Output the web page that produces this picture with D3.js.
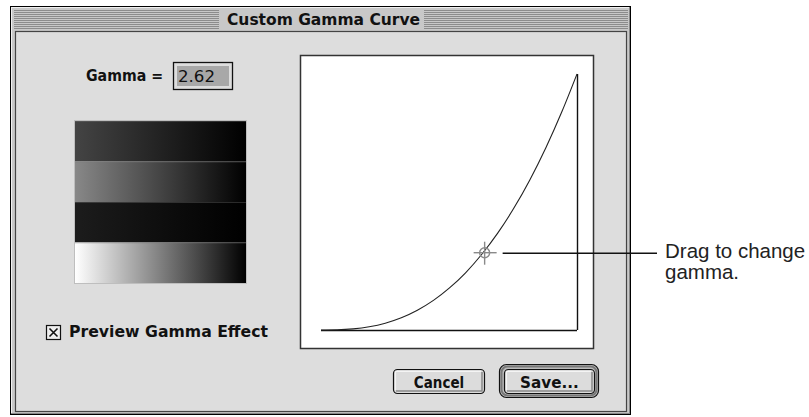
<!DOCTYPE html>
<html><head><meta charset="utf-8">
<script src="https://cdn.jsdelivr.net/npm/d3@7"></script>
<style>html,body{margin:0;padding:0;background:#fff;}svg{display:block;}</style>
</head><body>
<svg id="c" width="809" height="417"></svg>
<script>
// ---- data ----
const title = "Custom Gamma Curve";
const gammaValue = "2.62";
const inputLevels  = [0, 16, 32, 48, 64, 80, 96, 112, 128, 144, 160, 176, 192, 208, 224, 240, 255];
const outputLevels = [0, 0.2, 1.1, 3.2, 6.8, 12.2, 19.7, 29.5, 41.9, 57.0, 75.2, 96.5, 121.2, 149.5, 181.6, 217.6, 255];
const handlePoint = [163, 77];
const rampStartGrays = [68, 136, 28, 255];
const checkboxLabel = "Preview Gamma Effect";
const buttonLabels = ["Cancel", "Save..."];
const noteLines = ["Drag to change", "gamma."];

const svg = d3.select("#c");
const chicago = "'DejaVu Sans', Verdana, sans-serif";

// ---- window frame ----
svg.append("rect").attr("x",10.5).attr("y",6.5).attr("width",620).attr("height",408)
  .attr("fill","#c8c8c8").attr("stroke","#000").attr("stroke-width",1);
svg.append("line").attr("x1",11).attr("x2",630).attr("y1",7.5).attr("y2",7.5).attr("stroke","#f0f0f0");
svg.append("line").attr("x1",11.5).attr("x2",11.5).attr("y1",7).attr("y2",414).attr("stroke","#f0f0f0");
svg.append("line").attr("x1",629.5).attr("x2",629.5).attr("y1",7).attr("y2",414).attr("stroke","#888");
svg.append("line").attr("x1",11).attr("x2",630).attr("y1",413.5).attr("y2",413.5).attr("stroke","#888");
// title bar stripes
const stripeYs = d3.range(10, 29, 2);
const titleX0 = 227, titleX1 = 420;
[[14, titleX0 - 8], [titleX1 + 4, 628]].forEach(([a,b]) => {
  svg.append("g").selectAll("line").data(stripeYs).join("line")
    .attr("x1",a).attr("x2",b).attr("y1",d=>d+0.5).attr("y2",d=>d+0.5)
    .attr("stroke","#8c8c8c").attr("stroke-width",1);
});
svg.append("text").attr("x",(titleX0+titleX1)/2).attr("y",24.5).attr("text-anchor","middle")
  .attr("font-family",chicago).attr("font-weight","bold").attr("font-size",16)
  .attr("textLength",titleX1-titleX0).attr("lengthAdjust","spacingAndGlyphs")
  .attr("fill","#111").text(title);
// content area
svg.append("rect").attr("x",15.5).attr("y",31.5).attr("width",611).attr("height",380)
  .attr("fill","#dddddd").attr("stroke","#444").attr("stroke-width",1.2);

// ---- Gamma label + field ----
svg.append("text").attr("x",86).attr("y",81).attr("font-family",chicago).attr("font-weight","bold")
  .attr("font-size",16).attr("textLength",77).attr("lengthAdjust","spacingAndGlyphs").attr("fill","#111").text("Gamma =");
svg.append("rect").attr("x",173.5).attr("y",62.5).attr("width",59).attr("height",27)
  .attr("fill","#dddddd").attr("stroke","#111").attr("stroke-width",1.3);
svg.append("rect").attr("x",177).attr("y",66).attr("width",52).attr("height",20).attr("fill","#a8a8a8");
svg.append("text").attr("x",178).attr("y",82).attr("font-family",chicago)
  .attr("font-size",16).attr("textLength",37).attr("lengthAdjust","spacingAndGlyphs").attr("fill","#111").text(gammaValue);

// ---- gradient ramps ----
const rampX = 75, rampW = 171, rampY0 = 121, rampY1 = 283;
const bandY = d3.scaleBand().domain(d3.range(rampStartGrays.length)).range([rampY0, rampY1]).padding(0);
const defs = svg.append("defs");
rampStartGrays.forEach((g,i) => {
  const lg = defs.append("linearGradient").attr("id","ramp"+i).attr("x1","0").attr("x2","1").attr("y1","0").attr("y2","0");
  lg.append("stop").attr("offset","0").attr("stop-color",d3.rgb(g,g,g));
  lg.append("stop").attr("offset","1").attr("stop-color","#000");
});
svg.append("g").selectAll("rect").data(rampStartGrays).join("rect")
  .attr("x",rampX).attr("y",(d,i)=>bandY(i)).attr("width",rampW).attr("height",bandY.bandwidth())
  .attr("fill",(d,i)=>`url(#ramp${i})`);
svg.append("g").selectAll("line").data(rampStartGrays).join("line")
  .attr("x1",rampX).attr("x2",rampX+rampW).attr("y1",(d,i)=>bandY(i)+0.5).attr("y2",(d,i)=>bandY(i)+0.5)
  .attr("stroke","#777").attr("stroke-opacity",0.35);
svg.append("rect").attr("x",rampX-0.5).attr("y",rampY0-0.5).attr("width",rampW+1).attr("height",rampY1-rampY0+1)
  .attr("fill","none").attr("stroke","#aaa").attr("stroke-width",1).attr("stroke-opacity",0.6);

// ---- checkbox ----
svg.append("rect").attr("x",46.5).attr("y",325.5).attr("width",14).attr("height",14)
  .attr("fill","#eee").attr("stroke","#111").attr("stroke-width",1.2);
svg.append("path").attr("d","M49.5,328.5 L57.5,336.5 M57.5,328.5 L49.5,336.5")
  .attr("stroke","#111").attr("stroke-width",1.6);
svg.append("text").attr("x",69).attr("y",337).attr("font-family",chicago).attr("font-weight","bold")
  .attr("font-size",15).attr("textLength",199).attr("lengthAdjust","spacingAndGlyphs").attr("fill","#111").text(checkboxLabel);

// ---- curve panel ----
svg.append("rect").attr("x",300.5).attr("y",55.5).attr("width",293).attr("height",293)
  .attr("fill","#fff").attr("stroke","#333").attr("stroke-width",1.5);
const x = d3.scaleLinear().domain([0,255]).range([321,577]);
const y = d3.scaleLinear().domain([0,255]).range([330,74]);
svg.append("line").attr("x1",x(0)).attr("x2",x(255)).attr("y1",y(0)+0.5).attr("y2",y(0)+0.5)
  .attr("stroke","#111").attr("stroke-width",1.4);
svg.append("line").attr("x1",x(255)+0.5).attr("x2",x(255)+0.5).attr("y1",y(0)).attr("y2",y(255))
  .attr("stroke","#111").attr("stroke-width",1.4);
const pts = inputLevels.map((v,i)=>[v, outputLevels[i]]);
svg.append("path").datum(pts)
  .attr("d", d3.line().x(d=>x(d[0])).y(d=>y(d[1])).curve(d3.curveMonotoneX))
  .attr("fill","none").attr("stroke","#222").attr("stroke-width",1.1);

// handle (crosshair)
const hx = x(handlePoint[0]), hy = y(handlePoint[1]);
const hg = svg.append("g").attr("stroke","#8a8a8a").attr("fill","none").attr("stroke-width",1.4);
hg.append("circle").attr("cx",hx).attr("cy",hy).attr("r",5);
hg.append("line").attr("x1",hx-11).attr("x2",hx+12).attr("y1",hy).attr("y2",hy);
hg.append("line").attr("x1",hx).attr("x2",hx).attr("y1",hy-11).attr("y2",hy+12);

// ---- buttons ----
function button(x0,y0,w,h,label,isDefault){
  const g = svg.append("g");
  if(isDefault){
    g.append("rect").attr("x",x0-4.5).attr("y",y0-4.5).attr("width",w+9).attr("height",h+9).attr("rx",7)
      .attr("fill","#bbb").attr("stroke","#111").attr("stroke-width",1.2);
    g.append("rect").attr("x",x0-2.5).attr("y",y0-2.5).attr("width",w+5).attr("height",h+5).attr("rx",6)
      .attr("fill","none").attr("stroke","#777").attr("stroke-width",2);
  }
  g.append("rect").attr("x",x0+0.5).attr("y",y0+0.5).attr("width",w).attr("height",h).attr("rx",4)
    .attr("fill","#dcdcdc").attr("stroke","#111").attr("stroke-width",1.2);
  g.append("path").attr("d",`M${x0+3},${y0+h-2} L${x0+w-2},${y0+h-2} L${x0+w-2},${y0+3}`)
    .attr("fill","none").attr("stroke","#888").attr("stroke-width",1.5);
  g.append("path").attr("d",`M${x0+2.5},${y0+h-3} L${x0+2.5},${y0+2.5} L${x0+w-3},${y0+2.5}`)
    .attr("fill","none").attr("stroke","#f4f4f4").attr("stroke-width",1.2);
  g.append("text").attr("x",x0+w/2+0.5).attr("y",y0+18.5).attr("text-anchor","middle")
    .attr("font-family",chicago).attr("font-weight","bold").attr("font-size",15)
    .attr("textLength", label.length*8.4).attr("lengthAdjust","spacingAndGlyphs")
    .attr("fill","#111").text(label);
}
button(393,369,91,24,buttonLabels[0],false);
button(504,369,90,24,buttonLabels[1],true);

// ---- annotation ----
svg.append("line").attr("x1",hx+18).attr("x2",657).attr("y1",hy+0.5).attr("y2",hy+0.5)
  .attr("stroke","#111").attr("stroke-width",1.6);
svg.append("g").selectAll("text").data(noteLines).join("text")
  .attr("x",665).attr("y",(d,i)=>258+i*21)
  .attr("font-family","'Liberation Sans', Arial, sans-serif").attr("font-size",20.5)
  .attr("fill","#222").text(d=>d);
</script>
</body></html>
